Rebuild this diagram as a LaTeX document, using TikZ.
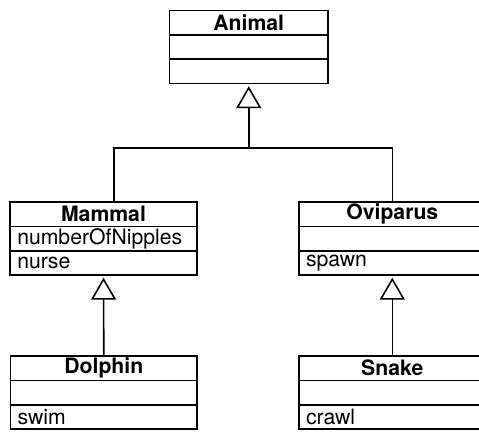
\documentclass[tikz,border=0pt]{standalone}
\usepackage{fontspec}
\setmainfont{TeX Gyre Heros}
\usetikzlibrary{arrows.meta}
\usetikzlibrary{positioning}

\begin{document}
\begin{tikzpicture}[x=1pt,y=-1pt,line width=1.6pt,
  class name/.style={draw,outer sep=0pt,inner sep=0pt,minimum width=186.5pt,
    minimum height=24.4pt,font=\fontsize{21.2}{25}\selectfont\bfseries},
  class part/.style={draw,outer sep=0pt,inner xsep=7pt,inner ysep=0pt,text width=172.5pt,
    align=left,minimum height=24.4pt,font=\fontsize{21.2}{25}\selectfont},
  isa/.style={-{Triangle[open,width=25pt,length=22pt]},shorten >=2.5pt}]

  \useasboundingbox (0,0) rectangle (479,433);

  % classes
  \node[class name,minimum width=158.5pt] (animal) at (248.75,22.7) {Animal};
  \node[class part,text width=144.5pt] (animal-attr) [below=0pt of animal] {};
  \node[class part,text width=144.5pt] (animal-ops) [below=0pt of animal-attr] {};

  \node[class name] (mammal) at (103.5,214.2) {Mammal};
  \node[class part] (mammal-attr) [below=0pt of mammal] {numberOfNipples};
  \node[class part] (mammal-ops) [below=0pt of mammal-attr] {nurse};

  \node[class name] (oviparus) at (392.3,214.2) {Oviparus};
  \node[class part] (oviparus-attr) [below=0pt of oviparus] {};
  \node[class part] (oviparus-ops) [below=0pt of oviparus-attr] {spawn};

  \node[class name] (dolphin) at (103.8,368.2) {Dolphin};
  \node[class part] (dolphin-attr) [below=0pt of dolphin] {};
  \node[class part] (dolphin-ops) [below=0pt of dolphin-attr] {swim};

  \node[class name] (snake) at (392.3,368.2) {Snake};
  \node[class part] (snake-attr) [below=0pt of snake] {};
  \node[class part] (snake-ops) [below=0pt of snake-attr] {crawl};

  % generalisations
  \coordinate (fork) at (248.75,148);
  \draw[isa] (fork) -- (animal-ops.south);
  \draw ([xshift=10.5pt]mammal.north) |- (fork);
  \draw (oviparus.north) |- (fork);
  \draw[isa] (dolphin.north) -- (mammal-ops.south);
  \draw[isa] (snake.north) -- (oviparus-ops.south);
\end{tikzpicture}
\end{document}
